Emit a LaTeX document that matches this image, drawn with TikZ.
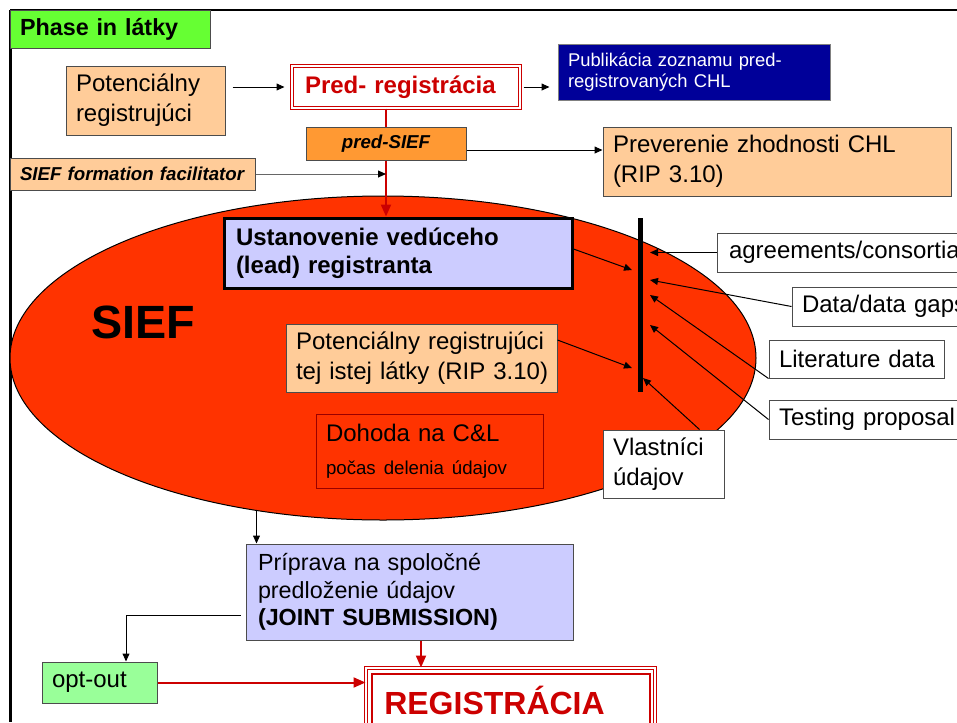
\documentclass[tikz,border=0pt]{standalone}
\usepackage{fontspec}
\setmainfont{Liberation Sans}
\usetikzlibrary{arrows.meta,shapes.geometric,calc}
\newdimen\px \px=0.75pt
\newcommand\myfs[2]{\fontsize{#1}{#2}\selectfont}
\newcommand\tline[1]{\mbox{#1}}
\definecolor{peach}{HTML}{FFCC99}
\definecolor{greenA}{HTML}{66FF33}
\definecolor{greenB}{HTML}{99FF99}
\definecolor{dblue}{HTML}{000099}
\definecolor{orangeA}{HTML}{FF9933}
\definecolor{lav}{HTML}{CCCCFF}
\definecolor{redA}{HTML}{FF3300}
\definecolor{dred}{HTML}{CC0000}
\definecolor{dredB}{HTML}{990000}
\begin{document}
\begin{tikzpicture}[x=0.75pt,y=-0.75pt,
  box/.style={draw=black!70, line width=0.75pt, inner ysep=0pt, inner xsep=10\px, align=left},
  arr/.style={line width=0.75pt, -{Triangle[length=6pt,width=5.2pt,color=black]}},
  redarr/.style={draw=dred, line width=1.5pt, -{Triangle[length=9pt,width=7.5pt]}}]
\useasboundingbox (0,0) rectangle (957,722);
\clip (0,0) rectangle (957,722);
% frame
\draw[line width=1.5pt] (10,10) -- (957,10);
\draw[line width=2.25pt] (10,10) -- (10,722);
% SIEF ellipse
\node[ellipse, draw=black, line width=0.75pt, fill=redA, minimum width=746\px, minimum height=324\px, inner sep=0pt] (ell) at (383,358) {};
% nodes
\node[box, fill=greenA, minimum width=200\px, minimum height=38\px, text width=180\px, font=\bfseries\myfs{17.5}{21}] (phase) at (110,29) {\tline{Phase in látky}};
\node[box, fill=peach, minimum width=159\px, minimum height=69\px, text width=139\px, font=\myfs{18}{22.5}] (pot) at (145.5,100.5) {\tline{Potenciálny}\\\tline{registrujúci}};
\node[draw=dred, line width=0.75pt, double=white, double distance=1.5pt, fill=white, minimum width=228\px, minimum height=42\px, inner xsep=13\px, inner ysep=0pt, text width=202\px, align=left, text=dred, font=\bfseries\myfs{18}{22}] (pred) at (406,87) {\tline{Pred- registrácia}};
\node[box, draw=black!50, fill=dblue, text=white, minimum width=272\px, minimum height=56\px, text width=252\px, font=\myfs{13.8}{15.8}] (pub) at (694,72) {\tline{Publikácia zoznamu pred-}\\\tline{registrovaných CHL}};
\node[box, fill=orangeA, minimum width=160\px, minimum height=33\px, text width=140\px, align=center, font=\bfseries\itshape\myfs{14}{17}] (psief) at (386,143.5) {\tline{pred-SIEF}};
\node[box, fill=peach, minimum width=348\px, minimum height=69\px, text width=328\px, font=\myfs{18}{22.5}] (prev) at (777,161.5) {\tline{Preverenie zhodnosti CHL}\\\tline{(RIP 3.10)}};
\node[box, fill=peach, minimum width=245\px, minimum height=32\px, text width=225\px, font=\bfseries\itshape\myfs{14}{17}] (fac) at (132.5,174) {\tline{SIEF formation facilitator}};
\node[box, draw=black, line width=2.25pt, fill=lav, minimum width=348\px, minimum height=70\px, inner xsep=12\px, text width=324\px, font=\bfseries\myfs{18}{21}] (ust) at (398,253) {\tline{Ustanovenie vedúceho}\\\tline{(lead) registranta}};
\node[font=\bfseries\myfs{35}{40}, inner sep=0pt] (sieftxt) at (143,322) {SIEF};
\node[box, fill=peach, minimum width=271\px, minimum height=68\px, text width=251\px, font=\myfs{18}{22}] (pot2) at (421.5,358) {\tline{Potenciálny registrujúci}\\\tline{tej istej látky (RIP 3.10)}};
\node[box, draw=dredB, fill=redA, minimum width=227\px, minimum height=74\px, text width=207\px, font=\myfs{18}{22}] (doh) at (429.5,451) {\tline{Dohoda na C\&L}\\[3pt]\tline{\myfs{14}{17}počas delenia údajov}};
% bar
\coordinate (bartop) at (640,218);
\coordinate (barbot) at (640,392);
\draw[line width=3.75pt] (bartop) -- (barbot);
\node[box, fill=white, minimum width=283\px, minimum height=39\px, inner xsep=12\px, text width=259\px, font=\myfs{18}{22}] (agr) at (858.5,252.5) {\tline{agreements/consortia}};
\node[box, fill=white, minimum width=208\px, minimum height=39\px, text width=188\px, font=\myfs{18}{22}] (data) at (896,306.5) {\tline{Data/data gaps}};
\node[box, fill=white, minimum width=175\px, minimum height=38\px, text width=155\px, font=\myfs{18}{22}] (lit) at (856.5,359) {\tline{Literature data}};
\node[box, fill=white, minimum width=231\px, minimum height=39\px, text width=211\px, font=\myfs{18}{22}] (test) at (884.5,419.5) {\tline{Testing proposal}};
\node[box, fill=white, minimum width=121\px, minimum height=68\px, text width=101\px, font=\myfs{18}{22.5}] (vl) at (663.5,464) {\tline{Vlastníci}\\\tline{údajov}};
\node[box, fill=lav, minimum width=327\px, minimum height=96\px, inner xsep=12\px, text width=303\px, font=\myfs{17.5}{20.5}] (prip) at (409.5,592) {\tline{Príprava na spoločné}\\\tline{predloženie údajov}\\\tline{\bfseries (JOINT SUBMISSION)}};
\node[box, fill=greenB, minimum width=115\px, minimum height=41\px, text width=95\px, font=\myfs{18}{22}] (opt) at (99.5,682.5) {\tline{opt-out}};
\node[draw=dred, line width=0.75pt, double=white, double distance=1.5pt, fill=white, minimum width=289\px, minimum height=92\px, inner sep=0pt] (reg) at (510.5,714) {};
\draw[dred, line width=1.5pt] ([shift={(6\px,-6\px)}]reg.north west) rectangle ([shift={(-6\px,6\px)}]reg.south east);
\node[anchor=west, inner sep=0pt, text=dred, font=\bfseries\myfs{24}{28}] (regtxt) at (384,700) {REGISTRÁCIA};
% connectors top
\draw[arr, shorten <=7\px, shorten >=7\px] (pot.east |- pred.west) -- (pred.west);
\draw[arr, shorten <=3\px, shorten >=8\px] (pred.east) -- (pred.east -| pub.west);
\draw[dred, line width=1.5pt] (psief.center |- pred.south) -- (psief.north);
\draw[redarr] (psief.south) -- (psief.center |- ust.north);
\draw[arr] ([yshift=-6.5\px]psief.east) -- ([yshift=-6.5\px]psief.east -| prev.west);
\draw[arr, draw=gray!80!black] (fac.east) -- (fac.east -| psief.center);
% bar connectors
\coordinate (b1) at (632,270);
\coordinate (b2) at (632,368);
\coordinate (b3) at (650,249);
\coordinate (b4) at (650,280);
\coordinate (b5) at (650,295);
\coordinate (b6) at (650,325);
\coordinate (b7) at (643,378);
\draw[arr] ([yshift=4\px]ust.east) -- (b1);
\draw[arr] ([yshift=18\px]pot2.east) -- (b2);
\draw[arr] (agr.west) -- (agr.west -| b3);
\draw[arr] (data.west) -- (b4);
\draw[arr] (lit.south west) -- (b5);
\draw[arr] (test.west) -- (b6);
\draw[arr] ([xshift=36\px]vl.north) -- (b7);
% bottom connectors
\draw[arr] ([shift={(11\px,33\px)}]prip.north west) -- ([xshift=11\px]prip.north west);
\draw[arr] ([shift={(-5\px,-23\px)}]prip.west) -| ([xshift=26.5\px]opt.north);
\draw[redarr] ([xshift=11.5\px]prip.south) -- ([xshift=11.5\px]prip.south |- reg.north);
\draw[redarr] (opt.east) -- (opt.east -| reg.west);
\end{tikzpicture}
\end{document}
